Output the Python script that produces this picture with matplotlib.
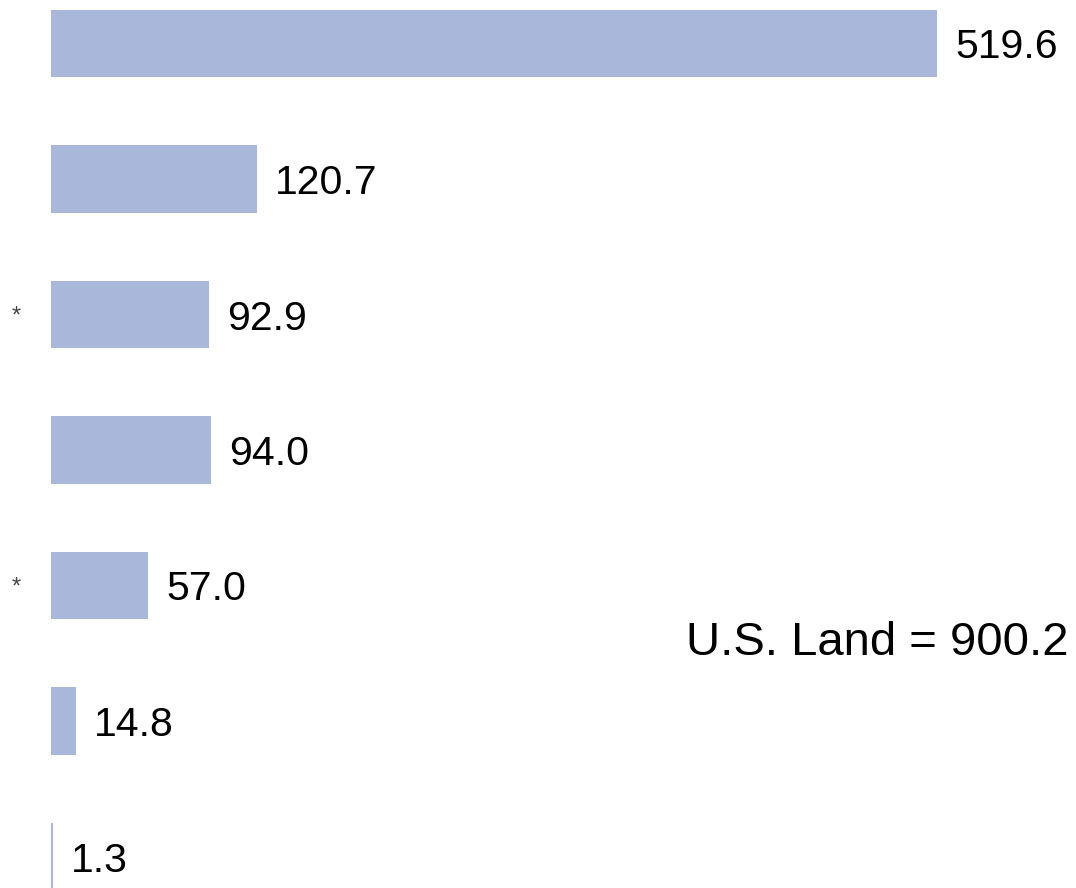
import matplotlib
matplotlib.use("Agg")
import matplotlib.pyplot as plt

plt.rcParams["font.family"] = ["Liberation Sans", "DejaVu Sans"]

# data
values = [519.6, 120.7, 92.9, 94.0, 57.0, 14.8, 1.3]
marks = ["", "", "*", "", "*", "", ""]
total_label = "U.S. Land = 900.2"

BAR_COLOR = "#a9b7db"

W, H = 1076, 888
fig = plt.figure(figsize=(W / 100, H / 100), dpi=100)
ax = fig.add_axes([51 / W, 0, 1 - 51 / W, 1])

pos = list(range(len(values)))
bars = ax.barh(pos, values, height=0.495, color=BAR_COLOR, edgecolor="none")
texts = ax.bar_label(bars, labels=[f"{v:.1f}" for v in values], padding=13,
                     fontsize=29.5, color="black")
for t in texts:
    t.set_va("center_baseline")

px_per_unit = 886 / 519.6
ax.set_xlim(0, (W - 51) / px_per_unit)
step = 135.5
ax.set_ylim((H - 43.5) / step, -43.5 / step)

ax.set_yticks(pos)
ax.set_yticklabels(marks, fontsize=17, color="#444444", va="center_baseline")
ax.tick_params(axis="y", length=0, pad=22)
ax.set_xticks([])
for side in ax.spines.values():
    side.set_visible(False)

fig.text(1068 / W, 1 - 643 / H, total_label, ha="right", va="center", fontsize=34, color="black")

fig.savefig("out.png", dpi=100)
